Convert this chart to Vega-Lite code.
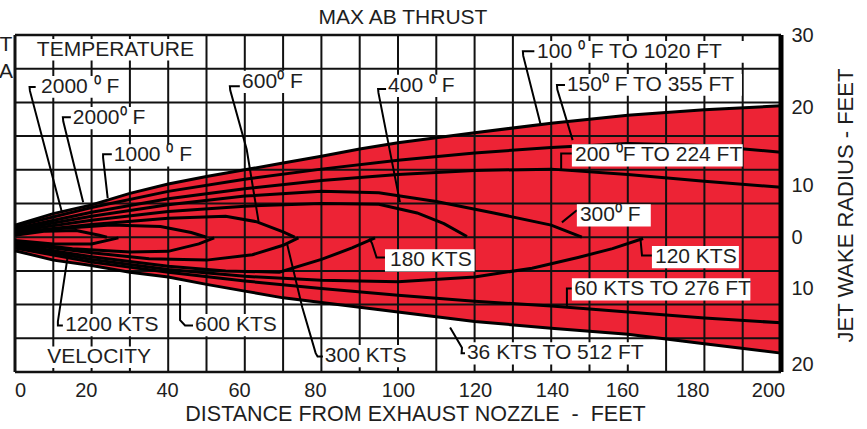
{
  "$schema": "https://vega.github.io/schema/vega-lite/v6.json",
  "width": 766,
  "height": 337,
  "autosize": {"type": "none"},
  "padding": {"left": 15, "top": 35, "right": 86, "bottom": 57},
  "background": "white",
  "config": {
    "font": "Liberation Sans",
    "view": {"stroke": null},
    "text": {"font": "Liberation Sans", "color": "#1e1e1e"}
  },
  "title": {"text": "MAX AB THRUST", "fontSize": 21, "fontWeight": "normal", "color": "#1e1e1e", "anchor": "middle", "offset": -3, "dx": 5, "font": "Liberation Sans"},
  "datasets": {
    "env": [
      {"x": 0, "up": 1.8, "lo": -2.0},
      {"x": 10, "up": 3.5, "lo": -3.4},
      {"x": 20, "up": 4.8, "lo": -4.2},
      {"x": 30, "up": 6.5, "lo": -5.2},
      {"x": 40, "up": 7.9, "lo": -5.9},
      {"x": 50, "up": 9.0, "lo": -7.0},
      {"x": 60, "up": 10.0, "lo": -8.0},
      {"x": 70, "up": 11.0, "lo": -9.0},
      {"x": 80, "up": 12.0, "lo": -9.7},
      {"x": 90, "up": 13.1, "lo": -10.4},
      {"x": 100, "up": 14.0, "lo": -11.1},
      {"x": 120, "up": 15.5, "lo": -12.5},
      {"x": 140, "up": 16.9, "lo": -13.5},
      {"x": 160, "up": 18.1, "lo": -14.4},
      {"x": 180, "up": 18.9, "lo": -15.8},
      {"x": 200, "up": 19.5, "lo": -17.2}
    ],
    "vgrid": [{"gx": 10}, {"gx": 20}, {"gx": 30}, {"gx": 40}, {"gx": 50}, {"gx": 60}, {"gx": 70}, {"gx": 80}, {"gx": 90}, {"gx": 100}, {"gx": 110}, {"gx": 120}, {"gx": 130}, {"gx": 140}, {"gx": 150}, {"gx": 160}, {"gx": 170}, {"gx": 180}, {"gx": 190}],
    "hgrid": [{"gy": -15}, {"gy": -10}, {"gy": -5}, {"gy": 0}, {"gy": 5}, {"gy": 10}, {"gy": 15}, {"gy": 20}, {"gy": 25}],
    "hborder": [{"gy": -20}, {"gy": 30}],
    "vleft": [{"gx": 0}],
    "vright": [{"gx": 200}],
    "lines": [
      {"s": "U1", "x": 0, "y": 1.6}, {"s": "U1", "x": 20, "y": 4.4}, {"s": "U1", "x": 40, "y": 6.8}, {"s": "U1", "x": 60, "y": 8.6}, {"s": "U1", "x": 80, "y": 10.1}, {"s": "U1", "x": 100, "y": 11.4}, {"s": "U1", "x": 120, "y": 12.5}, {"s": "U1", "x": 140, "y": 13.3}, {"s": "U1", "x": 160, "y": 13.9}, {"s": "U1", "x": 180, "y": 13.6}, {"s": "U1", "x": 200, "y": 12.6},
      {"s": "U2", "x": 0, "y": 1.3}, {"s": "U2", "x": 20, "y": 3.7}, {"s": "U2", "x": 40, "y": 5.7}, {"s": "U2", "x": 60, "y": 7.2}, {"s": "U2", "x": 80, "y": 8.4}, {"s": "U2", "x": 100, "y": 9.3}, {"s": "U2", "x": 120, "y": 9.9}, {"s": "U2", "x": 140, "y": 10.1}, {"s": "U2", "x": 160, "y": 9.3}, {"s": "U2", "x": 180, "y": 8.3}, {"s": "U2", "x": 200, "y": 7.4},
      {"s": "U3", "x": 0, "y": 1.1}, {"s": "U3", "x": 20, "y": 3.1}, {"s": "U3", "x": 40, "y": 4.8}, {"s": "U3", "x": 60, "y": 6.1}, {"s": "U3", "x": 80, "y": 6.8}, {"s": "U3", "x": 95, "y": 6.6}, {"s": "U3", "x": 110, "y": 5.3}, {"s": "U3", "x": 125, "y": 3.6}, {"s": "U3", "x": 140, "y": 1.8}, {"s": "U3", "x": 148, "y": 0},
      {"s": "U4", "x": 0, "y": 0.9}, {"s": "U4", "x": 20, "y": 2.5}, {"s": "U4", "x": 40, "y": 3.8}, {"s": "U4", "x": 60, "y": 4.6}, {"s": "U4", "x": 80, "y": 5.0}, {"s": "U4", "x": 95, "y": 4.9}, {"s": "U4", "x": 105, "y": 3.6}, {"s": "U4", "x": 112, "y": 2.0}, {"s": "U4", "x": 118, "y": 0.1},
      {"s": "U5", "x": 0, "y": 0.7}, {"s": "U5", "x": 20, "y": 1.9}, {"s": "U5", "x": 40, "y": 2.8}, {"s": "U5", "x": 55, "y": 3.1}, {"s": "U5", "x": 63, "y": 2.3}, {"s": "U5", "x": 70, "y": 0.8}, {"s": "U5", "x": 73, "y": 0},
      {"s": "U6", "x": 0, "y": 0.5}, {"s": "U6", "x": 12, "y": 1.3}, {"s": "U6", "x": 25, "y": 1.8}, {"s": "U6", "x": 38, "y": 1.6}, {"s": "U6", "x": 46, "y": 0.7}, {"s": "U6", "x": 50, "y": 0},
      {"s": "U7", "x": 0, "y": 0.3}, {"s": "U7", "x": 8, "y": 0.9}, {"s": "U7", "x": 16, "y": 1.0}, {"s": "U7", "x": 22, "y": 0.3}, {"s": "U7", "x": 24, "y": 0},
      {"s": "L1", "x": 0, "y": -1.6}, {"s": "L1", "x": 20, "y": -3.7}, {"s": "L1", "x": 40, "y": -5.2}, {"s": "L1", "x": 60, "y": -6.5}, {"s": "L1", "x": 80, "y": -7.6}, {"s": "L1", "x": 100, "y": -8.6}, {"s": "L1", "x": 120, "y": -9.5}, {"s": "L1", "x": 140, "y": -10.2}, {"s": "L1", "x": 160, "y": -11.1}, {"s": "L1", "x": 180, "y": -12.0}, {"s": "L1", "x": 200, "y": -12.7},
      {"s": "L2", "x": 0, "y": -1.3}, {"s": "L2", "x": 20, "y": -3.3}, {"s": "L2", "x": 40, "y": -4.8}, {"s": "L2", "x": 60, "y": -5.8}, {"s": "L2", "x": 80, "y": -6.4}, {"s": "L2", "x": 100, "y": -6.6}, {"s": "L2", "x": 120, "y": -5.9}, {"s": "L2", "x": 135, "y": -4.6}, {"s": "L2", "x": 147, "y": -3.0}, {"s": "L2", "x": 156, "y": -1.7}, {"s": "L2", "x": 164, "y": -0.2},
      {"s": "L3", "x": 0, "y": -1.1}, {"s": "L3", "x": 20, "y": -2.9}, {"s": "L3", "x": 40, "y": -4.3}, {"s": "L3", "x": 55, "y": -5.0}, {"s": "L3", "x": 69, "y": -5.2}, {"s": "L3", "x": 80, "y": -3.3}, {"s": "L3", "x": 88, "y": -1.6}, {"s": "L3", "x": 94, "y": -0.1},
      {"s": "L4", "x": 0, "y": -0.9}, {"s": "L4", "x": 20, "y": -2.3}, {"s": "L4", "x": 35, "y": -3.2}, {"s": "L4", "x": 50, "y": -3.4}, {"s": "L4", "x": 62, "y": -2.6}, {"s": "L4", "x": 70, "y": -1.2}, {"s": "L4", "x": 74, "y": -0.1},
      {"s": "L5", "x": 0, "y": -0.7}, {"s": "L5", "x": 15, "y": -1.7}, {"s": "L5", "x": 30, "y": -2.2}, {"s": "L5", "x": 40, "y": -2.1}, {"s": "L5", "x": 48, "y": -1.0}, {"s": "L5", "x": 52, "y": -0.1},
      {"s": "L6", "x": 0, "y": -0.5}, {"s": "L6", "x": 10, "y": -1.0}, {"s": "L6", "x": 20, "y": -1.0}, {"s": "L6", "x": 27, "y": -0.1}
    ],
    "leaders": [
      {"L": "A", "i": 0, "x": 5.4, "y": 22.3}, {"L": "A", "i": 1, "x": 3.8, "y": 22.3}, {"L": "A", "i": 2, "x": 3.9, "y": 21.7}, {"L": "A", "i": 3, "x": 12.3, "y": 3.6},
      {"L": "B", "i": 0, "x": 14.6, "y": 17.8}, {"L": "B", "i": 1, "x": 12.5, "y": 17.8}, {"L": "B", "i": 2, "x": 12.6, "y": 17.2}, {"L": "B", "i": 3, "x": 17.8, "y": 5.2},
      {"L": "C", "i": 0, "x": 25.3, "y": 12.3}, {"L": "C", "i": 1, "x": 23.0, "y": 12.3}, {"L": "C", "i": 2, "x": 23.0, "y": 11.8}, {"L": "C", "i": 3, "x": 24.2, "y": 5.8},
      {"L": "D", "i": 0, "x": 58.8, "y": 22.4}, {"L": "D", "i": 1, "x": 56.1, "y": 22.4}, {"L": "D", "i": 2, "x": 56.2, "y": 21.8}, {"L": "D", "i": 3, "x": 60.5, "y": 13.0}, {"L": "D", "i": 4, "x": 63.6, "y": 2.3},
      {"L": "E", "i": 0, "x": 97.0, "y": 22.0}, {"L": "E", "i": 1, "x": 94.8, "y": 22.0}, {"L": "E", "i": 2, "x": 94.9, "y": 21.4}, {"L": "E", "i": 3, "x": 100.5, "y": 5.2},
      {"L": "F", "i": 0, "x": 135.6, "y": 27.6}, {"L": "F", "i": 1, "x": 132.6, "y": 27.6}, {"L": "F", "i": 2, "x": 132.7, "y": 26.9}, {"L": "F", "i": 3, "x": 137.2, "y": 16.8},
      {"L": "G", "i": 0, "x": 143.6, "y": 22.6}, {"L": "G", "i": 1, "x": 141.5, "y": 22.6}, {"L": "G", "i": 2, "x": 141.6, "y": 21.9}, {"L": "G", "i": 3, "x": 145.6, "y": 14.4},
      {"L": "H", "i": 0, "x": 145.4, "y": 12.4}, {"L": "H", "i": 1, "x": 142.6, "y": 12.4}, {"L": "H", "i": 2, "x": 142.6, "y": 10.1},
      {"L": "I", "i": 0, "x": 146.7, "y": 4.0}, {"L": "I", "i": 1, "x": 142.8, "y": 2.2},
      {"L": "J", "i": 0, "x": 166.3, "y": -2.7}, {"L": "J", "i": 1, "x": 163.7, "y": -2.7}, {"L": "J", "i": 2, "x": 163.3, "y": -0.2},
      {"L": "K", "i": 0, "x": 96.6, "y": -3.0}, {"L": "K", "i": 1, "x": 94.4, "y": -3.0}, {"L": "K", "i": 2, "x": 93.2, "y": -0.9}, {"L": "K", "i": 3, "x": 92.5, "y": -0.2},
      {"L": "M", "i": 0, "x": 145.4, "y": -7.6}, {"L": "M", "i": 1, "x": 144.1, "y": -7.6}, {"L": "M", "i": 2, "x": 144.1, "y": -10.3},
      {"L": "N", "i": 0, "x": 117.6, "y": -17.2}, {"L": "N", "i": 1, "x": 116.6, "y": -17.2}, {"L": "N", "i": 2, "x": 116.7, "y": -16.4}, {"L": "N", "i": 3, "x": 113.6, "y": -13.4},
      {"L": "O", "i": 0, "x": 80.5, "y": -17.7}, {"L": "O", "i": 1, "x": 79.0, "y": -17.7}, {"L": "O", "i": 2, "x": 78.5, "y": -17.2}, {"L": "O", "i": 3, "x": 75.0, "y": -10.4}, {"L": "O", "i": 4, "x": 71.0, "y": -0.9},
      {"L": "P", "i": 0, "x": 46.5, "y": -13.1}, {"L": "P", "i": 1, "x": 44.4, "y": -13.1}, {"L": "P", "i": 2, "x": 43.1, "y": -12.3}, {"L": "P", "i": 3, "x": 43.1, "y": -7.1},
      {"L": "Q", "i": 0, "x": 12.6, "y": -13.1}, {"L": "Q", "i": 1, "x": 11.2, "y": -13.1}, {"L": "Q", "i": 2, "x": 11.2, "y": -12.5}, {"L": "Q", "i": 3, "x": 13.8, "y": -2.7}
    ],
    "boxes": [
      {"x1": 5.2, "x2": 47.0, "y1": 29.4, "y2": 26.2},
      {"x1": 6.3, "x2": 27.4, "y1": 23.9, "y2": 20.7},
      {"x1": 14.6, "x2": 35.2, "y1": 19.3, "y2": 16.0},
      {"x1": 25.3, "x2": 46.2, "y1": 13.8, "y2": 10.5},
      {"x1": 58.7, "x2": 75.4, "y1": 24.7, "y2": 21.4},
      {"x1": 96.9, "x2": 114.6, "y1": 24.1, "y2": 20.8},
      {"x1": 135.8, "x2": 191.0, "y1": 29.1, "y2": 25.9},
      {"x1": 143.6, "x2": 189.8, "y1": 24.2, "y2": 21.0},
      {"x1": 145.4, "x2": 190.0, "y1": 13.8, "y2": 10.5},
      {"x1": 146.7, "x2": 166.0, "y1": 4.9, "y2": 1.6},
      {"x1": 166.3, "x2": 189.0, "y1": -1.3, "y2": -4.6},
      {"x1": 96.6, "x2": 120.0, "y1": -1.8, "y2": -5.1},
      {"x1": 145.4, "x2": 192.0, "y1": -6.1, "y2": -9.4},
      {"x1": 117.5, "x2": 166.0, "y1": -15.6, "y2": -18.9},
      {"x1": 80.4, "x2": 103.6, "y1": -16.0, "y2": -19.3},
      {"x1": 46.5, "x2": 69.7, "y1": -11.4, "y2": -14.7},
      {"x1": 12.5, "x2": 38.9, "y1": -11.4, "y2": -14.7},
      {"x1": 7.8, "x2": 37.1, "y1": -16.2, "y2": -19.4}
    ],
    "labels": [
      {"t": "TEMPERATURE", "x": 5.7, "y": 27.8},
      {"t": "2000 ⁰ F", "x": 6.8, "y": 22.3},
      {"t": "2000⁰ F", "x": 15.1, "y": 17.7},
      {"t": "1000 ⁰ F", "x": 25.8, "y": 12.2},
      {"t": "600⁰ F", "x": 59.3, "y": 23.0},
      {"t": "400 ⁰ F", "x": 97.4, "y": 22.4},
      {"t": "100 ⁰ F TO 1020 FT", "x": 136.3, "y": 27.5},
      {"t": "150⁰ F TO 355 FT", "x": 144.1, "y": 22.6},
      {"t": "200 ⁰F TO 224 FT", "x": 146.2, "y": 12.2},
      {"t": "300⁰ F", "x": 147.5, "y": 3.3},
      {"t": "120 KTS", "x": 167.1, "y": -3.0},
      {"t": "180 KTS", "x": 97.9, "y": -3.4},
      {"t": "60 KTS TO 276 FT", "x": 146.0, "y": -7.7},
      {"t": "36 KTS TO 512 FT", "x": 118.0, "y": -17.2},
      {"t": "300 KTS", "x": 80.9, "y": -17.7},
      {"t": "600 KTS", "x": 47.0, "y": -13.1},
      {"t": "1200 KTS", "x": 13.1, "y": -13.1},
      {"t": "VELOCITY", "x": 8.4, "y": -17.8}
    ],
    "edge": [
      {"t": "T", "x": -0.7, "y": 28.5},
      {"t": "A", "x": -0.5, "y": 24.5}
    ]
  },
  "layer": [
    {
      "data": {"name": "env"},
      "mark": {"type": "area", "color": "#ED2335", "opacity": 1},
      "encoding": {
        "x": {"field": "x", "type": "quantitative", "scale": {"domain": [0, 200], "nice": false, "zero": false},
          "axis": {"orient": "bottom", "values": [1.3, 18.5, 39.7, 58.5, 78.3, 100, 120.1, 140.2, 158.5, 176.8, 196.6],
            "labelExpr": "'' + round(datum.value/20)*20", "ticks": false, "domain": false, "grid": false,
            "labelFlush": false, "labelOverlap": false, "labelFontSize": 20, "labelColor": "#1e1e1e", "labelPadding": 8,
            "title": "DISTANCE FROM EXHAUST NOZZLE\u00a0 -\u00a0 FEET", "titleFontSize": 21.5, "titleFontWeight": "normal", "titleColor": "#1e1e1e", "titlePadding": 3, "titleX": 400}},
        "y": {"field": "up", "type": "quantitative", "scale": {"domain": [-20, 30], "nice": false, "zero": false},
          "axis": {"orient": "right", "values": [30, 19.2, 7.7, 0, -7.6, -18.9],
            "labelExpr": "'' + abs(round(datum.value/10)*10)", "ticks": false, "domain": false, "grid": false,
            "labelFlush": false, "labelOverlap": false, "labelBaseline": "middle", "labelFontSize": 20, "labelColor": "#1e1e1e", "labelPadding": 10,
            "title": "JET WAKE RADIUS - FEET", "titleFontSize": 22, "titleFontWeight": "normal", "titleColor": "#1e1e1e", "titleAngle": 270, "titlePadding": 44, "titleY": 170}},
        "y2": {"field": "lo"}
      }
    },
    {
      "data": {"name": "vgrid"},
      "mark": {"type": "rule", "color": "#111111", "strokeWidth": 2},
      "encoding": {"x": {"field": "gx", "type": "quantitative"}}
    },
    {
      "data": {"name": "hgrid"},
      "mark": {"type": "rule", "color": "#111111", "strokeWidth": 2},
      "encoding": {"y": {"field": "gy", "type": "quantitative"}}
    },
    {
      "data": {"name": "hborder"},
      "mark": {"type": "rule", "color": "#111111", "strokeWidth": 2.5},
      "encoding": {"y": {"field": "gy", "type": "quantitative"}}
    },
    {
      "data": {"name": "vleft"},
      "mark": {"type": "rule", "color": "#111111", "strokeWidth": 3},
      "encoding": {"x": {"field": "gx", "type": "quantitative"}}
    },
    {
      "data": {"name": "vright"},
      "mark": {"type": "rule", "color": "#000000", "strokeWidth": 5},
      "encoding": {"x": {"field": "gx", "type": "quantitative"}}
    },
    {
      "data": {"name": "lines"},
      "mark": {"type": "line", "color": "#000000", "strokeWidth": 3},
      "encoding": {
        "x": {"field": "x", "type": "quantitative"},
        "y": {"field": "y", "type": "quantitative"},
        "detail": {"field": "s"}
      }
    },
    {
      "data": {"name": "env"},
      "mark": {"type": "line", "color": "#000000", "strokeWidth": 3},
      "encoding": {
        "x": {"field": "x", "type": "quantitative"},
        "y": {"field": "up", "type": "quantitative"}
      }
    },
    {
      "data": {"name": "env"},
      "mark": {"type": "line", "color": "#000000", "strokeWidth": 3},
      "encoding": {
        "x": {"field": "x", "type": "quantitative"},
        "y": {"field": "lo", "type": "quantitative"}
      }
    },
    {
      "data": {"name": "leaders"},
      "mark": {"type": "line", "color": "#000000", "strokeWidth": 2},
      "encoding": {
        "x": {"field": "x", "type": "quantitative"},
        "y": {"field": "y", "type": "quantitative"},
        "detail": {"field": "L"},
        "order": {"field": "i", "type": "quantitative"}
      }
    },
    {
      "data": {"name": "boxes"},
      "mark": {"type": "rect", "color": "white", "opacity": 1},
      "encoding": {
        "x": {"field": "x1", "type": "quantitative"},
        "x2": {"field": "x2"},
        "y": {"field": "y1", "type": "quantitative"},
        "y2": {"field": "y2"}
      }
    },
    {
      "data": {"name": "labels"},
      "mark": {"type": "text", "align": "left", "baseline": "middle", "fontSize": 21, "font": "Liberation Sans", "color": "#1e1e1e"},
      "encoding": {
        "x": {"field": "x", "type": "quantitative"},
        "y": {"field": "y", "type": "quantitative"},
        "text": {"field": "t"}
      }
    },
    {
      "data": {"name": "edge"},
      "mark": {"type": "text", "align": "right", "baseline": "middle", "fontSize": 21, "font": "Liberation Sans", "color": "#1e1e1e"},
      "encoding": {
        "x": {"field": "x", "type": "quantitative"},
        "y": {"field": "y", "type": "quantitative"},
        "text": {"field": "t"}
      }
    }
  ]
}
